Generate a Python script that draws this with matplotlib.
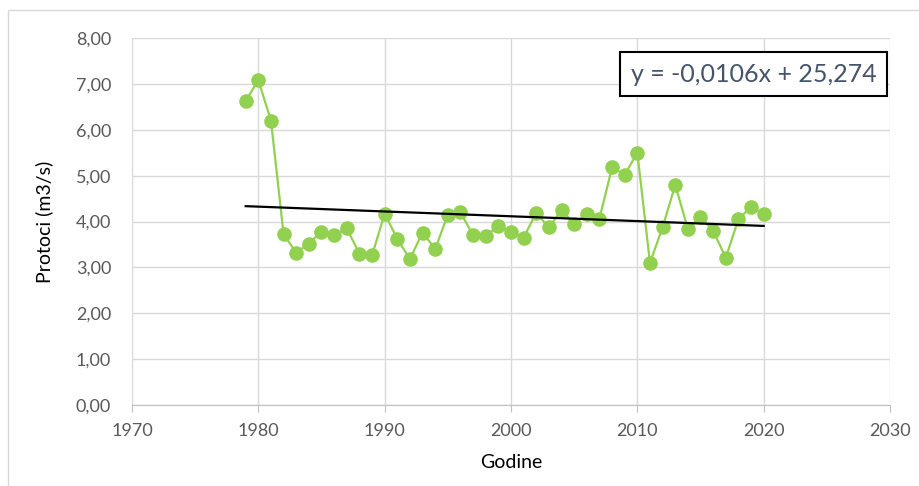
import numpy as np
import matplotlib.pyplot as plt

# annual flow data
godine = list(range(1979, 2021))
protoci = [6.63, 7.08, 6.20, 3.72, 3.32, 3.52, 3.78, 3.70, 3.85, 3.30,
           3.26, 4.17, 3.62, 3.18, 3.76, 3.40, 4.15, 4.20, 3.70, 3.69,
           3.90, 3.77, 3.65, 4.19, 3.87, 4.25, 3.95, 4.17, 4.06, 5.18,
           5.02, 5.50, 3.10, 3.87, 4.80, 3.84, 4.10, 3.80, 3.21, 4.05,
           4.32, 4.17]
trend_k = -0.0106
trend_n = 25.274

plt.rcParams['font.family'] = ['Lato', 'DejaVu Sans']

fig = plt.figure(figsize=(9.2, 4.86), dpi=100)
ax = fig.add_axes([132/920, 1 - 405/486, (890-132)/920, (405-38)/486])

x = np.array(godine)
y = np.array(protoci)
ax.plot(x, y, color='#92D050', lw=1.6, marker='o', markersize=10.5,
        markeredgewidth=0, zorder=3)

# linear trend (excel-style)
xt = np.array([godine[0], godine[-1]])
k, n = np.polyfit(x, y, 1)
ax.plot(xt, k*xt + n, color='black', lw=1.6, zorder=4)

ax.set_xlim(1970, 2030)
ax.set_ylim(0, 8)
ax.set_xticks(range(1970, 2031, 10))
ax.set_yticks(range(0, 9))
ax.set_yticklabels([f'{v:.2f}'.replace('.', ',') for v in range(0, 9)])
ax.grid(True, color='#D9D9D9', lw=1)
ax.set_axisbelow(True)
for s in ['top', 'right', 'left']:
    ax.spines[s].set_visible(False)
ax.spines['bottom'].set_color('#BFBFBF')
ax.tick_params(length=0, labelsize=13, colors='#595959')
ax.tick_params(axis='y', pad=15)
ax.tick_params(axis='x', length=5, color='#BFBFBF', pad=8)

ax.set_xlabel('Godine', fontsize=14, color='black', labelpad=11)
ax.set_ylabel('Protoci (m3/s)', fontsize=14, color='black', labelpad=16)

eq = f'y = {trend_k:.4f}x + {trend_n:.3f}'.replace('.', ',')
ax.text(0.982, 0.901, eq, transform=ax.transAxes, ha='right', va='center',
        fontsize=18, color='#44546A',
        bbox=dict(boxstyle='square,pad=0.42', fc='white', ec='black', lw=1.5))

# chart border
fig.patches.append(plt.Rectangle((8/920, -0.01), 1.0, 1 - 10/486 + 0.01,
                                 transform=fig.transFigure, fill=False,
                                 ec='#D9D9D9', lw=1))

fig.savefig('out.png', dpi=100)
